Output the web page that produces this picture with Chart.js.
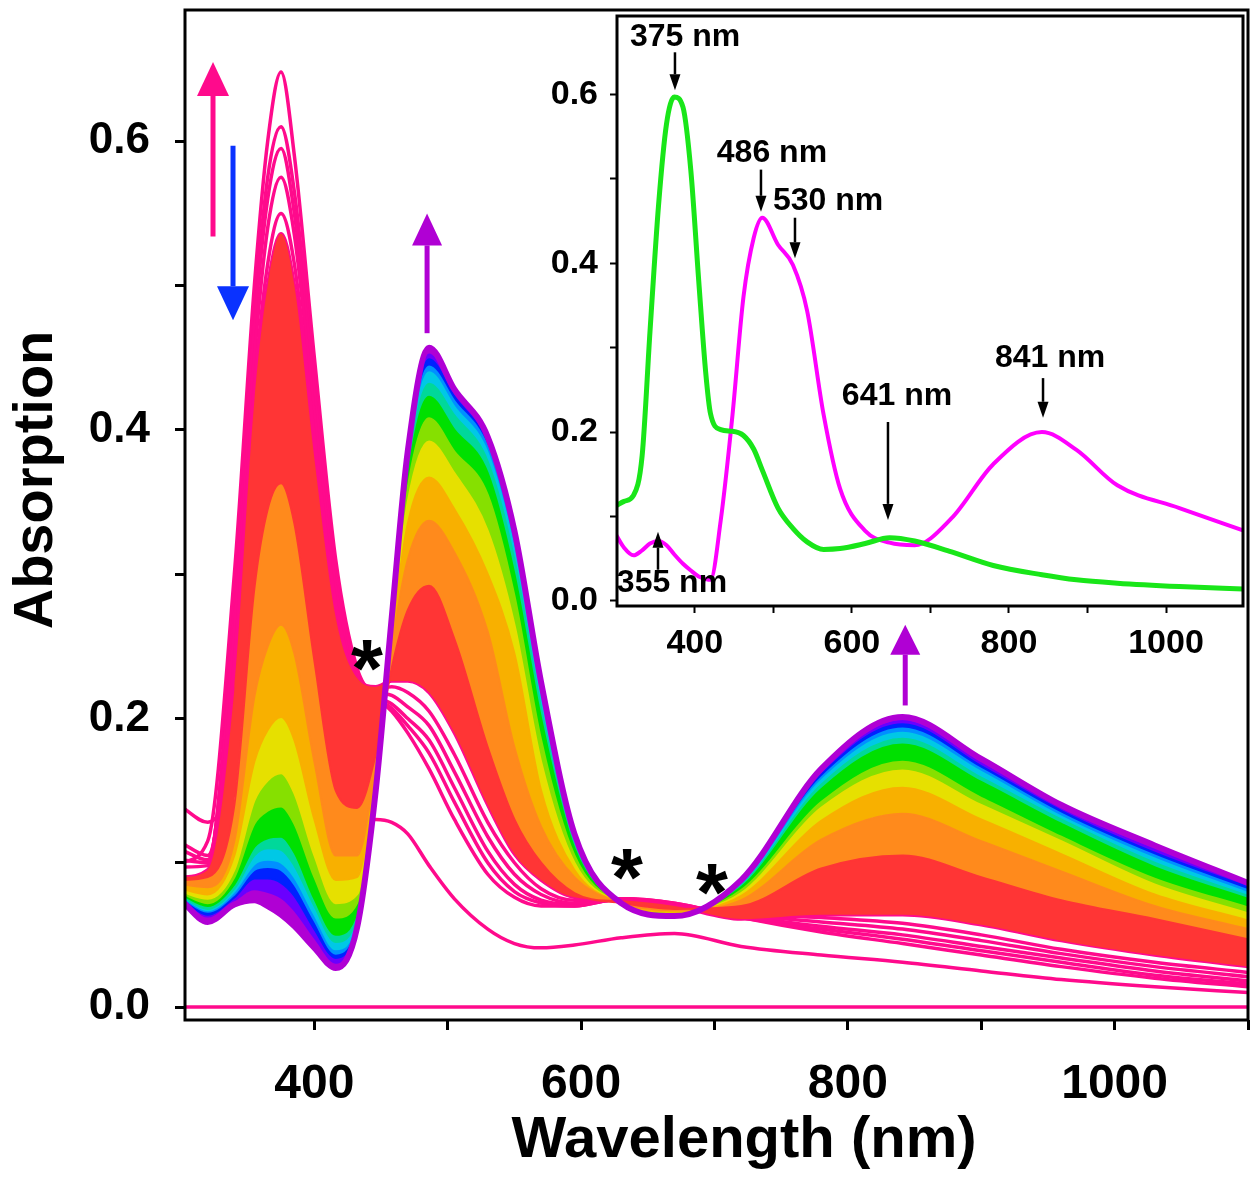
<!DOCTYPE html>
<html>
<head>
<meta charset="utf-8">
<script src="https://cdn.jsdelivr.net/npm/chart.js@4.4.1/dist/chart.umd.min.js"></script>
<style>
  html, body { margin: 0; padding: 0; background: #fff; }
  #wrap { position: relative; width: 1260px; height: 1181px; }
  #mainChart { position: absolute; left: 0; top: 0; }
  #insetChart { position: absolute; left: 530px; top: 0; }
</style>
</head>
<body>
<div id="wrap">
  <canvas id="mainChart" width="1260" height="1181"></canvas>
  <canvas id="insetChart" width="730" height="680"></canvas>
</div>
<script>
// wavelength grid (nm) shared by the titration spectra
const wavelengths = [300, 320, 340, 355, 365, 375, 385, 400, 416, 432, 446, 458, 470, 486, 505, 530, 550, 570, 595, 630, 670, 720, 780, 841, 900, 960, 1030, 1100];

// first phase (pink) spectra
const baseline = [0, 0, 0, 0, 0, 0, 0, 0, 0, 0, 0, 0, 0, 0, 0, 0, 0, 0, 0, 0, 0, 0, 0, 0, 0, 0, 0, 0];
const pinkLow  = [0.139, 0.128, 0.150, 0.180, 0.200, 0.210, 0.200, 0.170, 0.140, 0.128, 0.130, 0.128, 0.120, 0.098, 0.075, 0.054, 0.044, 0.041, 0.043, 0.048, 0.051, 0.042, 0.036, 0.031, 0.025, 0.019, 0.014, 0.010];
const pink550  = [0.114, 0.105, 0.240, 0.430, 0.515, 0.550, 0.515, 0.395, 0.280, 0.226, 0.220, 0.222, 0.218, 0.205, 0.175, 0.128, 0.100, 0.082, 0.074, 0.074, 0.070, 0.065, 0.062, 0.058, 0.050, 0.040, 0.031, 0.024];
const pink575  = [0.109, 0.102, 0.260, 0.450, 0.540, 0.575, 0.535, 0.410, 0.290, 0.226, 0.218, 0.216, 0.208, 0.195, 0.163, 0.118, 0.092, 0.078, 0.072, 0.074, 0.071, 0.064, 0.059, 0.054, 0.046, 0.037, 0.028, 0.021];
const pink595  = [0.102, 0.100, 0.270, 0.470, 0.560, 0.595, 0.550, 0.425, 0.298, 0.230, 0.216, 0.210, 0.200, 0.185, 0.152, 0.108, 0.085, 0.074, 0.071, 0.075, 0.071, 0.063, 0.056, 0.050, 0.042, 0.034, 0.025, 0.018];
const pink610  = [0.097, 0.098, 0.280, 0.480, 0.575, 0.610, 0.565, 0.435, 0.304, 0.232, 0.215, 0.207, 0.195, 0.176, 0.142, 0.100, 0.080, 0.072, 0.070, 0.075, 0.072, 0.062, 0.054, 0.047, 0.039, 0.031, 0.022, 0.016];
const pinkTop  = [0.100, 0.115, 0.300, 0.500, 0.600, 0.648, 0.590, 0.450, 0.310, 0.235, 0.215, 0.205, 0.190, 0.165, 0.130, 0.092, 0.076, 0.070, 0.070, 0.075, 0.072, 0.062, 0.052, 0.044, 0.036, 0.028, 0.020, 0.014];
const pinkStart = [0.090, 0.095, 0.220, 0.420, 0.500, 0.536, 0.500, 0.380, 0.270, 0.228, 0.222, 0.226, 0.226, 0.218, 0.190, 0.140, 0.106, 0.088, 0.076, 0.074, 0.070, 0.061, 0.064, 0.064, 0.057, 0.046, 0.036, 0.028];

// second phase (rainbow) spectra, in titration order
const specRed    = [0.088, 0.090, 0.140, 0.290, 0.345, 0.363, 0.335, 0.240, 0.150, 0.138, 0.175, 0.235, 0.275, 0.292, 0.255, 0.180, 0.130, 0.100, 0.079, 0.072, 0.068, 0.070, 0.096, 0.105, 0.090, 0.074, 0.061, 0.047];
const specOrange = [0.085, 0.083, 0.115, 0.215, 0.250, 0.265, 0.245, 0.170, 0.105, 0.105, 0.168, 0.250, 0.310, 0.337, 0.315, 0.260, 0.180, 0.125, 0.090, 0.072, 0.067, 0.074, 0.116, 0.134, 0.115, 0.094, 0.070, 0.054];
const specGold   = [0.082, 0.078, 0.105, 0.170, 0.192, 0.201, 0.185, 0.130, 0.088, 0.090, 0.163, 0.258, 0.335, 0.367, 0.345, 0.300, 0.245, 0.150, 0.095, 0.072, 0.066, 0.077, 0.129, 0.152, 0.130, 0.106, 0.078, 0.060];
const specYellow = [0.080, 0.075, 0.095, 0.143, 0.157, 0.162, 0.148, 0.105, 0.072, 0.078, 0.160, 0.262, 0.350, 0.392, 0.370, 0.330, 0.265, 0.170, 0.100, 0.072, 0.066, 0.079, 0.138, 0.164, 0.140, 0.115, 0.085, 0.065];
const specLime   = [0.079, 0.072, 0.090, 0.127, 0.136, 0.139, 0.127, 0.090, 0.062, 0.072, 0.158, 0.264, 0.360, 0.408, 0.385, 0.355, 0.285, 0.185, 0.105, 0.072, 0.065, 0.081, 0.142, 0.170, 0.145, 0.118, 0.089, 0.069];
const specGreen  = [0.078, 0.070, 0.085, 0.111, 0.117, 0.118, 0.107, 0.075, 0.050, 0.066, 0.156, 0.266, 0.368, 0.423, 0.400, 0.370, 0.300, 0.200, 0.110, 0.072, 0.065, 0.083, 0.151, 0.182, 0.156, 0.127, 0.097, 0.075];
const specTeal   = [0.077, 0.068, 0.082, 0.105, 0.110, 0.109, 0.098, 0.070, 0.045, 0.063, 0.155, 0.267, 0.372, 0.432, 0.410, 0.378, 0.310, 0.207, 0.112, 0.072, 0.064, 0.084, 0.154, 0.186, 0.159, 0.130, 0.100, 0.077];
const specCyan   = [0.077, 0.067, 0.080, 0.099, 0.102, 0.100, 0.090, 0.064, 0.040, 0.061, 0.154, 0.268, 0.376, 0.440, 0.416, 0.384, 0.317, 0.213, 0.115, 0.072, 0.064, 0.085, 0.157, 0.190, 0.163, 0.132, 0.103, 0.079];
const specAzure  = [0.076, 0.066, 0.078, 0.095, 0.097, 0.095, 0.085, 0.060, 0.037, 0.060, 0.153, 0.268, 0.379, 0.444, 0.420, 0.388, 0.322, 0.217, 0.116, 0.072, 0.064, 0.086, 0.159, 0.193, 0.165, 0.134, 0.105, 0.081];
const specBlue   = [0.076, 0.064, 0.076, 0.089, 0.089, 0.086, 0.077, 0.054, 0.034, 0.058, 0.152, 0.269, 0.381, 0.449, 0.423, 0.390, 0.325, 0.220, 0.118, 0.072, 0.063, 0.087, 0.161, 0.196, 0.167, 0.136, 0.107, 0.083];
const specViolet = [0.075, 0.062, 0.073, 0.081, 0.079, 0.075, 0.066, 0.047, 0.030, 0.056, 0.151, 0.270, 0.383, 0.453, 0.426, 0.393, 0.328, 0.222, 0.119, 0.072, 0.063, 0.088, 0.163, 0.199, 0.170, 0.138, 0.110, 0.085];
const specEnd    = [0.074, 0.059, 0.071, 0.074, 0.070, 0.064, 0.056, 0.041, 0.027, 0.055, 0.150, 0.270, 0.385, 0.457, 0.428, 0.395, 0.330, 0.225, 0.120, 0.072, 0.063, 0.088, 0.165, 0.201, 0.172, 0.140, 0.112, 0.086];

// inset spectra
const insetWl = [300, 310, 322, 333, 343, 354, 364, 374, 385, 395, 405, 414, 420, 433, 448, 462, 475, 486, 506, 525, 543, 564, 585, 617, 648, 680, 727, 780, 842, 886, 938, 1017, 1100];
const insetGreen   = [0.113, 0.118, 0.125, 0.172, 0.319, 0.470, 0.565, 0.597, 0.585, 0.510, 0.380, 0.270, 0.222, 0.203, 0.201, 0.196, 0.180, 0.155, 0.110, 0.086, 0.070, 0.061, 0.062, 0.068, 0.075, 0.071, 0.058, 0.042, 0.031, 0.025, 0.021, 0.017, 0.014];
const insetMagenta = [0.078, 0.063, 0.054, 0.060, 0.068, 0.071, 0.066, 0.055, 0.044, 0.036, 0.029, 0.026, 0.025, 0.095, 0.220, 0.360, 0.430, 0.454, 0.422, 0.398, 0.344, 0.221, 0.133, 0.083, 0.069, 0.066, 0.098, 0.162, 0.200, 0.179, 0.137, 0.110, 0.083];

// axis ticks
const mainXTicks = [400, 500, 600, 700, 800, 900, 1000, 1100];
const insetXTicks = [400, 500, 600, 700, 800, 900, 1000];
const yTicks = [0, 0.1, 0.2, 0.3, 0.4, 0.5, 0.6];

const PINK = '#ff0a8c';
const pinkSpectra = [baseline, pinkLow, pink550, pink575, pink595, pink610, pinkTop, pinkStart];
const rainbowSpectra = [specRed, specOrange, specGold, specYellow, specLime, specGreen, specTeal, specCyan, specAzure, specBlue, specViolet];
const rainbowColors = ['#ff3535', '#ff8a1c', '#f8b000', '#e6e000', '#86e000', '#00e000', '#00d89a', '#00c8e6', '#0090ff', '#0022ff', '#6a00ff'];
const PURPLE = '#b000d4';
const FONT = 'Liberation Sans, Arial, sans-serif';

const toPts = (xs, ys) => xs.map((x, i) => ({ x: x, y: ys[i] }));
const fixTicks = vals => s => { s.ticks = vals.map(v => ({ value: v })); };
const boldFont = (size) => ({ family: FONT, weight: 'bold', size: size });

function drawArrow(ctx, x0, y0, x1, y1, color, shaft, headW, headL) {
  const ang = Math.atan2(y1 - y0, x1 - x0);
  const bx = x1 - headL * Math.cos(ang), by = y1 - headL * Math.sin(ang);
  ctx.save();
  ctx.strokeStyle = color;
  ctx.fillStyle = color;
  ctx.lineWidth = shaft;
  ctx.beginPath();
  ctx.moveTo(x0, y0);
  ctx.lineTo(bx, by);
  ctx.stroke();
  ctx.beginPath();
  ctx.moveTo(x1, y1);
  ctx.lineTo(bx + headW / 2 * Math.sin(ang), by - headW / 2 * Math.cos(ang));
  ctx.lineTo(bx - headW / 2 * Math.sin(ang), by + headW / 2 * Math.cos(ang));
  ctx.closePath();
  ctx.fill();
  ctx.restore();
}

// ---------- main chart ----------
const mainDatasets = [];
pinkSpectra.forEach(arr => {
  mainDatasets.push({
    data: toPts(wavelengths, arr),
    borderColor: PINK, borderWidth: 3.5, fill: false, order: 3
  });
});
rainbowSpectra.forEach((arr, k) => {
  mainDatasets.push({
    data: toPts(wavelengths, arr),
    borderColor: rainbowColors[k], backgroundColor: rainbowColors[k],
    borderWidth: 2, fill: '-1', order: 2
  });
});
mainDatasets.push({
  data: toPts(wavelengths, specEnd),
  borderColor: PURPLE, backgroundColor: PURPLE, borderWidth: 6, fill: '-1', order: 1
});

const mainMarks = {
  id: 'mainMarks',
  afterDraw(chart) {
    const { ctx, chartArea: a, scales: { x, y } } = chart;
    ctx.save();
    ctx.strokeStyle = '#000';
    ctx.lineWidth = 3;
    ctx.strokeRect(a.left, a.top, a.right - a.left, a.bottom - a.top);
    ctx.restore();

    // axis titles
    ctx.save();
    ctx.fillStyle = '#000';
    ctx.font = 'bold 58px ' + FONT;
    ctx.textAlign = 'center';
    ctx.textBaseline = 'alphabetic';
    ctx.fillText('Wavelength (nm)', 744, 1157);
    ctx.translate(37, 480);
    ctx.rotate(-Math.PI / 2);
    ctx.font = 'bold 56px ' + FONT;
    ctx.textBaseline = 'middle';
    ctx.fillText('Absorption', 0, 0);
    ctx.restore();

    drawArrow(ctx, x.getPixelForValue(324), y.getPixelForValue(0.534), x.getPixelForValue(324), y.getPixelForValue(0.655), PINK, 5, 32, 34);
    drawArrow(ctx, x.getPixelForValue(339), y.getPixelForValue(0.597), x.getPixelForValue(339), y.getPixelForValue(0.476), '#0a32ff', 5, 32, 34);
    drawArrow(ctx, x.getPixelForValue(484.5), y.getPixelForValue(0.467), x.getPixelForValue(484.5), y.getPixelForValue(0.550), PURPLE, 5, 30, 32);
    drawArrow(ctx, x.getPixelForValue(843), y.getPixelForValue(0.209), x.getPixelForValue(843), y.getPixelForValue(0.265), PURPLE, 5, 30, 30);

    ctx.save();
    ctx.fillStyle = '#000';
    ctx.font = 'bold 82px ' + FONT;
    ctx.textAlign = 'center';
    ctx.textBaseline = 'alphabetic';
    [[439.5, 0.246], [634.4, 0.101], [698.1, 0.091]].forEach(([nm, v]) => {
      ctx.fillText('*', x.getPixelForValue(nm), y.getPixelForValue(v) + 44);
    });
    ctx.restore();
  }
};

new Chart(document.getElementById('mainChart'), {
  type: 'line',
  data: { datasets: mainDatasets },
  options: {
    responsive: false,
    animation: false,
    devicePixelRatio: 1,
    layout: { padding: { left: 0, right: 12, top: 10, bottom: 0 } },
    elements: {
      point: { radius: 0 },
      line: { tension: 0.4, cubicInterpolationMode: 'monotone' }
    },
    plugins: { legend: { display: false }, tooltip: { enabled: false } },
    scales: {
      x: {
        type: 'linear', min: 303, max: 1100,
        afterBuildTicks: fixTicks(mainXTicks),
        afterFit: s => { s.height = 161; s.paddingLeft = 0; s.paddingRight = 0; },
        border: { display: false },
        grid: { drawOnChartArea: false, drawTicks: true, tickLength: 10, tickWidth: 3, tickColor: '#000' },
        ticks: {
          autoSkip: false, maxRotation: 0, padding: 26,
          color: '#000', font: boldFont(48),
          callback: v => (v % 200 === 0 ? String(v) : '')
        }
      },
      y: {
        type: 'linear', min: -0.009, max: 0.691,
        afterBuildTicks: fixTicks(yTicks),
        afterFit: s => { s.width = 185; s.paddingTop = 0; s.paddingBottom = 0; },
        border: { display: false },
        grid: { drawOnChartArea: false, drawTicks: true, tickLength: 10, tickWidth: 3, tickColor: '#000' },
        ticks: {
          autoSkip: false, padding: 25,
          color: '#000', font: boldFont(44),
          callback: v => (Math.round(v * 10) % 2 === 0 ? v.toFixed(1) : '')
        }
      }
    }
  },
  plugins: [mainMarks]
});

// ---------- inset chart ----------
const insetMarks = {
  id: 'insetMarks',
  beforeDraw(chart) {
    const { ctx, chartArea: a } = chart;
    ctx.save();
    ctx.fillStyle = '#fff';
    ctx.fillRect(a.left, a.top, a.right - a.left, a.bottom - a.top);
    ctx.restore();
  },
  afterDraw(chart) {
    const { ctx, chartArea: a, scales: { x, y } } = chart;
    ctx.save();
    ctx.strokeStyle = '#000';
    ctx.lineWidth = 3;
    ctx.strokeRect(a.left, a.top, a.right - a.left, a.bottom - a.top);
    ctx.fillStyle = '#000';
    ctx.font = 'bold 32px ' + FONT;
    ctx.textAlign = 'center';
    ctx.textBaseline = 'middle';
    const labels = [
      ['375 nm', 387.6, 0.668], ['486 nm', 498.3, 0.531], ['530 nm', 569.7, 0.474],
      ['641 nm', 657.5, 0.243], ['841 nm', 852.3, 0.288], ['355 nm', 371, 0.021]
    ];
    labels.forEach(([t, nm, v]) => ctx.fillText(t, x.getPixelForValue(nm), y.getPixelForValue(v)));
    ctx.restore();
    const arrows = [
      [374.8, 0.650, 0.605], [484.3, 0.511, 0.461], [527.6, 0.454, 0.406],
      [646.0, 0.212, 0.096], [843.4, 0.264, 0.217], [353.2, 0.037, 0.082]
    ];
    arrows.forEach(([nm, v0, v1]) => {
      const px = x.getPixelForValue(nm);
      drawArrow(ctx, px, y.getPixelForValue(v0), px, y.getPixelForValue(v1), '#000', 2.5, 11, 16);
    });
  }
};

new Chart(document.getElementById('insetChart'), {
  type: 'line',
  data: {
    datasets: [
      { data: toPts(insetWl, insetGreen), borderColor: '#19e619', borderWidth: 5, fill: false },
      { data: toPts(insetWl, insetMagenta), borderColor: '#ff00ff', borderWidth: 4, fill: false }
    ]
  },
  options: {
    responsive: false,
    animation: false,
    devicePixelRatio: 1,
    layout: { padding: { left: 0, right: 17, top: 16, bottom: 0 } },
    elements: {
      point: { radius: 0 },
      line: { tension: 0.4, cubicInterpolationMode: 'monotone' }
    },
    plugins: { legend: { display: false }, tooltip: { enabled: false } },
    scales: {
      x: {
        type: 'linear', min: 301, max: 1098,
        afterBuildTicks: fixTicks(insetXTicks),
        afterFit: s => { s.height = 74; s.paddingLeft = 0; s.paddingRight = 0; },
        border: { display: false },
        grid: { drawOnChartArea: false, drawTicks: true, tickLength: 7, tickWidth: 2, tickColor: '#000' },
        ticks: {
          autoSkip: false, maxRotation: 0, padding: 10,
          color: '#000', font: boldFont(34),
          callback: v => (v % 200 === 0 ? String(v) : '')
        }
      },
      y: {
        type: 'linear', min: -0.006, max: 0.693,
        afterBuildTicks: fixTicks(yTicks),
        afterFit: s => { s.width = 87; s.paddingTop = 0; s.paddingBottom = 0; },
        border: { display: false },
        grid: { drawOnChartArea: false, drawTicks: true, tickLength: 7, tickWidth: 2, tickColor: '#000' },
        ticks: {
          autoSkip: false, padding: 12,
          color: '#000', font: boldFont(34),
          callback: v => (Math.round(v * 10) % 2 === 0 ? v.toFixed(1) : '')
        }
      }
    }
  },
  plugins: [insetMarks]
});
</script>
</body>
</html>
